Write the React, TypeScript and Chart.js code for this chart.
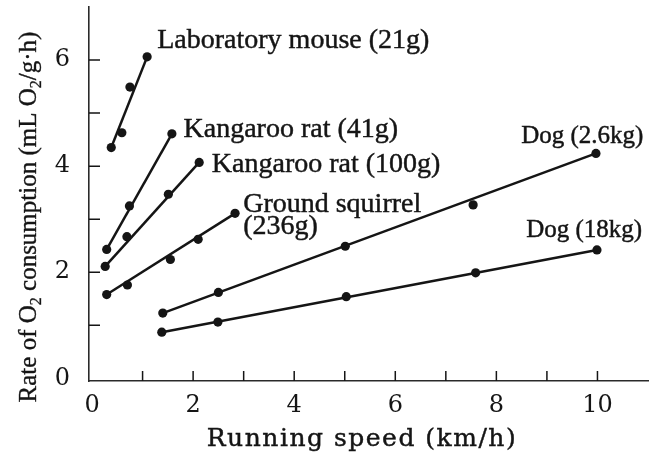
import React, { useEffect, useRef } from 'react';
import { Chart, registerables } from 'chart.js';

Chart.register(...registerables);

// ---- Data: running speed (km/h) vs O2 consumption (mL O2/g·h) ----
const mouseSpeed = [0.38, 0.59, 0.75, 1.09];
const mouseRate = [4.35, 4.63, 5.49, 6.06];
const kRat41Speed = [0.29, 0.74, 1.58];
const kRat41Rate = [2.43, 3.25, 4.61];
const kRat100Speed = [0.26, 0.69, 1.51, 2.12];
const kRat100Rate = [2.11, 2.67, 3.47, 4.07];
const squirrelSpeed = [0.29, 0.7, 1.55, 2.1, 2.83];
const squirrelRate = [1.58, 1.76, 2.24, 2.62, 3.11];
const dogSmallSpeed = [1.4, 2.5, 5.01, 7.54, 9.97];
const dogSmallRate = [1.23, 1.62, 2.49, 3.27, 4.24];
const dogLargeSpeed = [1.38, 2.49, 5.03, 7.59, 9.99];
const dogLargeRate = [0.87, 1.06, 1.54, 1.99, 2.42];

// Fitted lines (start, end)
const mouseFitSpeed = [0.38, 1.09];
const mouseFitRate = [4.35, 6.06];
const kRat41FitSpeed = [0.29, 1.58];
const kRat41FitRate = [2.43, 4.61];
const kRat100FitSpeed = [0.26, 2.12];
const kRat100FitRate = [2.11, 4.07];
const squirrelFitSpeed = [0.29, 2.83];
const squirrelFitRate = [1.58, 3.11];
const dogSmallFitSpeed = [1.4, 9.97];
const dogSmallFitRate = [1.23, 4.24];
const dogLargeFitSpeed = [1.38, 9.99];
const dogLargeFitRate = [0.87, 2.42];

// Ticks
const xTickLabels = [0, 2, 4, 6, 8, 10];
const yTickLabels = [0, 2, 4, 6];
const xTickMarks = [1, 2, 3, 4, 5, 6, 7, 8, 9, 10];
const yTickMarks = [1, 2, 3, 4, 5, 6];

// Species labels (anchored in data units: left edge, baseline)
const labelTexts = [
  'Laboratory mouse (21g)',
  'Kangaroo rat (41g)',
  'Kangaroo rat (100g)',
  'Ground squirrel',
  '(236g)',
  'Dog (2.6kg)',
  'Dog (18kg)',
];
const labelSpeed = [1.29, 1.81, 2.37, 2.99, 2.99, 8.49, 8.59];
const labelRate = [6.22, 4.55, 3.89, 3.14, 2.73, 4.44, 2.67];

const xTitle = 'Running speed (km/h)';
const yTitleParts: [string, boolean][] = [
  ['Rate of O', false],
  ['2', true],
  [' consumption (mL O', false],
  ['2', true],
  ['/g·h)', false],
];

// ---- Styles ----
const INK = '#151515';
const SERIF_A = '"Liberation Serif", serif';
const SERIF_B = '"DejaVu Serif", serif';
const labelFontSizes = [28, 28, 28, 28, 28, 25, 25];

const pts = (xs: number[], ys: number[]) => xs.map((x, i) => ({ x, y: ys[i] }));

const series = [
  [mouseSpeed, mouseRate, mouseFitSpeed, mouseFitRate],
  [kRat41Speed, kRat41Rate, kRat41FitSpeed, kRat41FitRate],
  [kRat100Speed, kRat100Rate, kRat100FitSpeed, kRat100FitRate],
  [squirrelSpeed, squirrelRate, squirrelFitSpeed, squirrelFitRate],
  [dogSmallSpeed, dogSmallRate, dogSmallFitSpeed, dogSmallFitRate],
  [dogLargeSpeed, dogLargeRate, dogLargeFitSpeed, dogLargeFitRate],
];

const drawText = (ctx: CanvasRenderingContext2D, t: string, x: number, y: number) => {
  ctx.fillText(t, x, y);
  ctx.strokeText(t, x, y);
};

const overlay = {
  id: 'overlay',
  afterDraw(chart: any) {
    const { ctx, chartArea, scales } = chart;
    const xs = scales.x;
    const ys = scales.y;
    ctx.save();
    // inward tick marks
    ctx.strokeStyle = INK;
    ctx.lineWidth = 1.5;
    ctx.beginPath();
    for (const v of xTickMarks) {
      const p = xs.getPixelForValue(v);
      ctx.moveTo(p, chartArea.bottom);
      ctx.lineTo(p, chartArea.bottom - 10);
    }
    for (const v of yTickMarks) {
      const p = ys.getPixelForValue(v);
      ctx.moveTo(chartArea.left, p);
      ctx.lineTo(chartArea.left + 11, p);
    }
    ctx.stroke();

    // species labels
    ctx.fillStyle = INK;
    ctx.strokeStyle = INK;
    ctx.lineWidth = 0.45;
    ctx.textAlign = 'left';
    ctx.textBaseline = 'alphabetic';
    labelTexts.forEach((t, i) => {
      ctx.font = `${labelFontSizes[i]}px ${SERIF_A}`;
      drawText(ctx, t, xs.getPixelForValue(labelSpeed[i]), ys.getPixelForValue(labelRate[i]));
    });

    // x axis title
    ctx.font = `25px ${SERIF_B}`;
    (ctx as any).letterSpacing = '1.5px';
    ctx.textAlign = 'center';
    drawText(ctx, xTitle, chartArea.left + 273, chart.height - 6);
    (ctx as any).letterSpacing = '0px';

    // y axis title (rotated, with subscripts)
    const main = `25px ${SERIF_A}`;
    const sub = `16px ${SERIF_A}`;
    let total = 0;
    for (const [t, s] of yTitleParts) {
      ctx.font = s ? sub : main;
      total += ctx.measureText(t).width;
    }
    ctx.translate(36, chartArea.top + 210);
    ctx.rotate(-Math.PI / 2);
    ctx.textAlign = 'left';
    ctx.lineWidth = 0.35;
    let x = -total / 2;
    for (const [t, s] of yTitleParts) {
      ctx.font = s ? sub : main;
      drawText(ctx, t, x, s ? 5 : 0);
      x += ctx.measureText(t).width;
    }
    ctx.restore();
  },
};

export default function App() {
  const ref = useRef<HTMLCanvasElement | null>(null);
  useEffect(() => {
    if (!ref.current) return;
    const datasets: any[] = [];
    series.forEach(([sx, sy, fx, fy]) => {
      datasets.push({
        data: pts(fx, fy),
        showLine: true,
        borderColor: INK,
        borderWidth: 2.5,
        pointRadius: 0,
        pointHoverRadius: 0,
      });
      datasets.push({
        data: pts(sx, sy),
        showLine: false,
        pointRadius: 4.6,
        pointBackgroundColor: INK,
        pointBorderWidth: 0,
        borderColor: INK,
      });
    });
    const chart = new Chart(ref.current, {
      type: 'scatter',
      data: { datasets },
      plugins: [overlay],
      options: {
        animation: false,
        responsive: true,
        maintainAspectRatio: false,
        layout: { padding: { top: 7, right: 11, left: 0, bottom: 0 } },
        plugins: { legend: { display: false }, tooltip: { enabled: false } },
        scales: {
          x: {
            type: 'linear',
            min: -0.06,
            max: 11,
            grid: { display: false },
            border: { display: true, color: '#2a2a2a', width: 1.6 },
            afterBuildTicks: (axis: any) => {
              axis.ticks = xTickLabels.map((v) => ({ value: v }));
            },
            afterFit: (axis: any) => {
              axis.height = 71;
              axis.paddingLeft = 0;
              axis.paddingRight = 0;
            },
            ticks: {
              color: INK,
              padding: 2,
              maxRotation: 0,
              font: { family: SERIF_B, size: 24 },
              callback: (v: any) => String(v),
            },
          },
          y: {
            type: 'linear',
            min: -0.05,
            max: 7,
            grid: { display: false },
            border: { display: true, color: '#2a2a2a', width: 1.6 },
            afterBuildTicks: (axis: any) => {
              axis.ticks = yTickLabels.map((v) => ({ value: v }));
            },
            afterFit: (axis: any) => {
              axis.width = 89;
              axis.paddingTop = 0;
              axis.paddingBottom = 0;
            },
            ticks: {
              color: INK,
              padding: 11,
              font: { family: SERIF_B, size: 24 },
              callback: (v: any) => String(v),
            },
          },
        },
      },
    });
    return () => chart.destroy();
  }, []);
  return (
    <div style={{ position: 'absolute', left: 0, top: 0, width: 659, height: 452, background: '#fff' }}>
      <canvas ref={ref} />
    </div>
  );
}
